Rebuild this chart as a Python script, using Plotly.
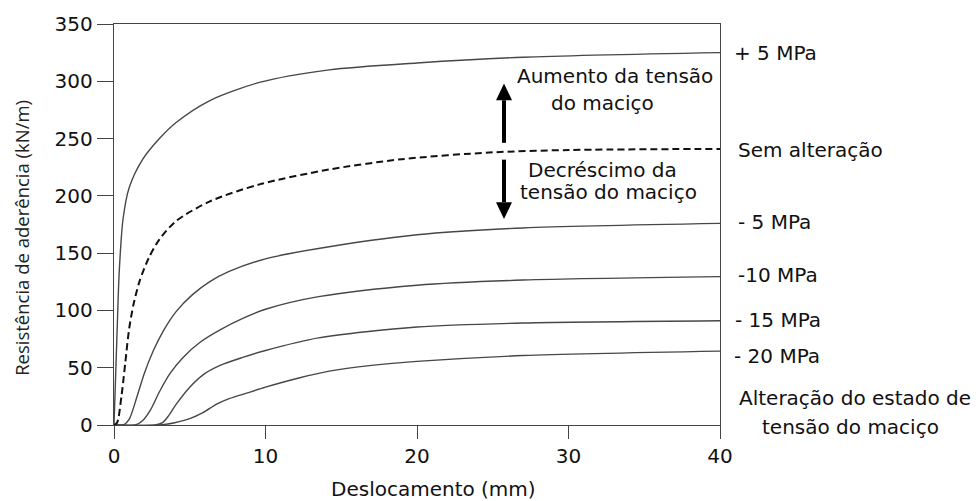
import plotly.graph_objects as go

# Displacement (mm) / bond resistance (kN/m) for each change in rock-mass stress
x_plus5 = [0, 0.2, 0.35, 0.6, 1.0, 1.9, 3.0, 4.1, 6.3, 9.6, 14.2, 20, 27, 40]
y_plus5 = [0, 80, 135, 180, 207, 232, 250, 264, 283, 299, 310, 316, 321, 325]

x_base = [0, 0.2, 0.5, 0.75, 1.0, 1.3, 1.7, 2.3, 3.0, 4.1, 6.3, 9.6, 14.2, 19, 25, 30, 40]
y_base = [0, 2, 26, 55, 84, 106, 126, 146, 162, 178, 195, 210, 223, 232, 238, 240, 241]

x_m5 = [0, 0.6, 1.0, 1.5, 2.0, 2.6, 3.25, 4.1, 5.2, 6.3, 7.6, 10, 13.5, 20, 27, 40]
y_m5 = [0, 0, 5, 24, 45, 65, 82, 99, 114, 125, 134, 145, 154, 166, 172, 176]

x_m10 = [0, 1.4, 1.9, 2.4, 3.0, 3.7, 4.56, 5.66, 7.0, 8.5, 10, 13.5, 20, 27, 40]
y_m10 = [0, 0, 4, 13, 29, 45, 59, 72, 83, 93, 101, 112, 122, 126.5, 129.5]

x_m15 = [0, 2.7, 3.2, 3.6, 4.1, 5.0, 5.9, 7.0, 8.5, 10, 13.5, 20, 27, 40]
y_m15 = [0, 0, 2, 8, 18, 33, 44, 52, 59, 65, 76, 85.5, 89, 91]

x_m20 = [0, 3.0, 4.0, 5.0, 5.9, 6.75, 7.6, 8.8, 10, 12.2, 14.2, 17, 20, 27, 40]
y_m20 = [0, 0, 2, 5.5, 11, 18, 23, 28, 33, 41, 47, 52, 55.5, 60.6, 64.5]

curve_labels = ["+ 5 MPa", "Sem alteração", "- 5 MPa", "-10 MPa", "- 15 MPa", "- 20 MPa"]

x_ticks = [0, 10, 20, 30, 40]
y_ticks = [0, 50, 100, 150, 200, 250, 300, 350]

W, H = 976, 501
L, R, T, B = 114, 720, 20, 425   # plot area in pixels
FONT = "DejaVu Sans"
TXT = "#111111"


def paper(xp, yp):
    return (xp - L) / (R - L), (B - yp) / (B - T)


fig = go.Figure()

solid = dict(color="#474747", width=1.4)
for xs, ys in [(x_plus5, y_plus5), (x_m5, y_m5), (x_m10, y_m10), (x_m15, y_m15), (x_m20, y_m20)]:
    fig.add_trace(go.Scatter(x=xs, y=ys, mode="lines",
                             line=dict(shape="spline", smoothing=0.8, **solid),
                             hoverinfo="skip", showlegend=False))

fig.add_trace(go.Scatter(x=x_base, y=y_base, mode="lines",
                         line=dict(color="#111111", width=2, dash="7px,4px",
                                   shape="spline", smoothing=0.8),
                         hoverinfo="skip", showlegend=False))

annotations = []


def text_at(text, xp, yp, anchor="left", size=20, family=FONT, color=TXT, angle=0):
    px, py = paper(xp, yp)
    annotations.append(dict(text=text, x=px, y=py, xref="paper", yref="paper",
                            xanchor=anchor, yanchor="middle", showarrow=False,
                            textangle=angle,
                            font=dict(family=family, size=size, color=color)))


# Curve labels to the right of the frame
label_pos = [(732, 49), (736, 147), (736, 220), (736, 274), (733, 319), (732, 355)]
for text, (xp, yp) in zip(curve_labels, label_pos):
    text_at(text, xp, yp)

text_at("Alteração do estado de", 855, 398, anchor="center")
text_at("tensão do maciço", 851, 427, anchor="center")

text_at("Aumento da tensão", 615, 73, anchor="center")
text_at("do maciço", 602, 100, anchor="center")
text_at("Decréscimo da", 602, 167, anchor="center")
text_at("tensão do maciço", 608, 190, anchor="center")

# Axis titles
text_at("Deslocamento (mm)", 433, 490, anchor="center")
text_at("Resistência de aderência (kN/m)", 22, 236, anchor="center",
        size=18.5, family="Open Sans", color="#222222", angle=-90)

# Up / down arrows between the stress labels
shapes = []
ax = 504
for y_tail, y_head_base, y_tip in [(140, 97, 80), (157, 200, 217)]:
    x0, y0 = paper(ax, y_tail)
    x1, y1 = paper(ax, y_head_base)
    shapes.append(dict(type="line", xref="paper", yref="paper", x0=x0, y0=y0, x1=x1, y1=y1,
                       line=dict(color="black", width=4)))
    xa, ya = paper(ax - 8, y_head_base)
    xb, yb = paper(ax + 8, y_head_base)
    xt, yt = paper(ax, y_tip)
    shapes.append(dict(type="path", xref="paper", yref="paper",
                       path=f"M {xa} {ya} L {xb} {yb} L {xt} {yt} Z",
                       fillcolor="black", line=dict(color="black", width=0)))

fig.update_layout(
    width=W, height=H,
    margin=dict(l=L, r=W - R, t=T, b=H - B, pad=0),
    paper_bgcolor="white", plot_bgcolor="white",
    annotations=annotations, shapes=shapes,
    font=dict(family=FONT, size=20, color=TXT),
)

fig.update_xaxes(
    range=[0, 40], tickvals=x_ticks, ticks="outside", ticklen=13, tickwidth=1.2,
    tickcolor="#444444", showline=True, linecolor="#444444", linewidth=1.4, mirror=True,
    showgrid=False, zeroline=False,
    tickfont=dict(family=FONT, size=20, color=TXT),
)
fig.update_yaxes(
    range=[0, 350], tickvals=y_ticks, ticks="outside", ticklen=16, tickwidth=1.2,
    tickcolor="#444444", showline=True, linecolor="#444444", linewidth=1.4, mirror=True,
    showgrid=False, zeroline=False,
    tickfont=dict(family=FONT, size=20, color=TXT),
)

fig.write_html("out.html")
